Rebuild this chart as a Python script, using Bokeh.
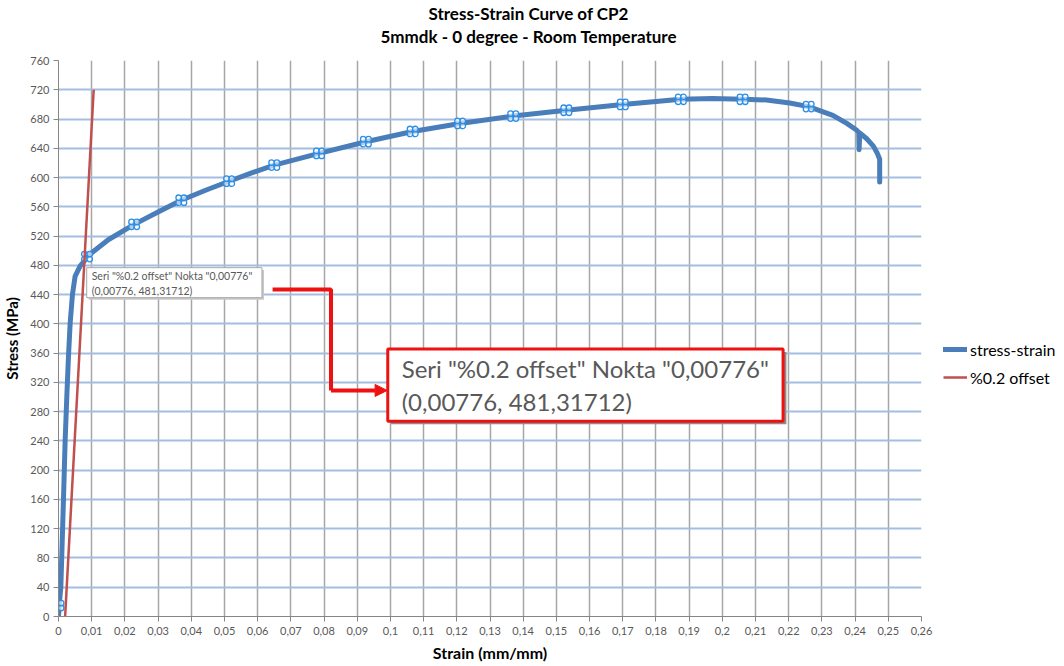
from bokeh.plotting import figure
from bokeh.models import (Range1d, FixedTicker, CustomJSTickFormatter, Legend, LegendItem,
                          Label, BoxAnnotation, Arrow, NormalHead, Title)
from bokeh.embed import file_html
from bokeh.resources import INLINE

# ---- data ----
strain = [0, 0.0002, 0.0007, 0.0011, 0.0015, 0.002, 0.0025, 0.003, 0.0035, 0.0042, 0.005,
          0.0065, 0.0078, 0.0086, 0.015, 0.0228, 0.03, 0.037, 0.0445, 0.0514, 0.058, 0.065,
          0.0785, 0.0926, 0.1067, 0.121, 0.137, 0.153, 0.17, 0.1875, 0.197, 0.2061, 0.2133,
          0.2203, 0.226, 0.2333, 0.2375, 0.2404, 0.2411, 0.2412, 0.2414, 0.2435, 0.2455,
          0.2466, 0.2474, 0.2474, 0.2474]
stress = [0, 15, 40, 100, 160, 240, 300, 355, 400, 440, 465,
          479, 486, 492, 515, 536, 553, 569, 583, 595, 606, 617,
          633, 649, 663, 674, 684, 692, 700, 707, 708, 707, 706,
          702, 697, 685, 674, 665, 662, 638, 661, 653, 643,
          634, 625, 610, 594]

marker_strain = [0.0, 0.0086, 0.0228, 0.037, 0.0514, 0.065, 0.0785, 0.0926, 0.1067, 0.121,
                 0.137, 0.153, 0.17, 0.1875, 0.2061, 0.226]
marker_stress = [15, 492, 536, 569, 595, 617, 633, 649, 663, 674, 684, 692, 700, 707, 707, 697]

offset_strain = [0.002, 0.0106]
offset_stress = [0, 720]

x_ticks = [round(i * 0.01, 2) for i in range(27)]
y_ticks = list(range(0, 761, 40))

title_lines = ["Stress-Strain Curve of CP2", "5mmdk - 0 degree - Room Temperature"]
tooltip_text = 'Seri "%0.2 offset" Nokta "0,00776"\n(0,00776, 481,31712)'

# callout geometry (annotation, data units)
small_box = dict(left=0.0085, right=0.0613, top=476.8, bottom=435.8)
big_box = dict(left=0.0992, right=0.2183, top=365.6, bottom=266.8)
arrow_x = [0.0645, 0.0821, 0.0821]
arrow_y = [447, 447, 309]
arrow_end = (0.0990, 309)

FONT = "Lato"
TXT = "#595959"
RED = "#ee1111"

p = figure(frame_width=863, frame_height=556, output_backend="svg", toolbar_location=None,
           x_range=Range1d(0, 0.26), y_range=Range1d(0, 760),
           min_border_left=53, min_border_right=134, min_border_top=54, min_border_bottom=40)
p.outline_line_color = None
p.background_fill_color = "white"

# titles (added bottom-up; first one is an empty spacer)
p.add_layout(Title(text=" ", standoff=5, text_font_size="7px"), "above")
p.add_layout(Title(text=title_lines[1], align="left", offset=322, standoff=0,
                   text_font=FONT, text_font_style="bold", text_font_size="17px",
                   text_color="black"), "above")
p.add_layout(Title(text=title_lines[0], align="left", offset=370, standoff=0,
                   text_font=FONT, text_font_style="bold", text_font_size="17px",
                   text_color="black"), "above")

# grids
p.xgrid.ticker = FixedTicker(ticks=x_ticks)
p.ygrid.ticker = FixedTicker(ticks=y_ticks)
p.xgrid.grid_line_color = "#a6a6a6"
p.xgrid.grid_line_width = 1.5
p.ygrid.grid_line_color = "#a3bedf"
p.ygrid.grid_line_width = 2

# axes
p.xaxis.ticker = FixedTicker(ticks=x_ticks)
p.yaxis.ticker = FixedTicker(ticks=y_ticks)
p.xaxis.formatter = CustomJSTickFormatter(code="""
var s = tick.toFixed(2).replace(/0+$/,'').replace(/\\.$/,'');
return s.replace('.', ',');
""")
for ax in (p.xaxis[0], p.yaxis[0]):
    ax.axis_line_color = "#868686"
    ax.major_tick_line_color = "#868686"
    ax.major_tick_in = 0
    ax.major_tick_out = 5
    ax.minor_tick_line_color = None
    ax.major_label_text_font = FONT
    ax.major_label_text_font_size = "11px"
    ax.major_label_text_color = TXT
    ax.axis_label_text_font = FONT
    ax.axis_label_text_font_style = "bold"
    ax.axis_label_text_font_size = "15px"
    ax.axis_label_text_color = "black"
p.xaxis.axis_label = "Strain (mm/mm)"
p.xaxis.axis_label_text_font_size = "16px"
p.yaxis.axis_label = "Stress (MPa)"
p.xaxis.major_label_standoff = 5
p.xaxis.axis_label_standoff = 5
p.yaxis.major_label_standoff = 4
p.yaxis.axis_label_standoff = 6

# series
r_main = p.line(strain, stress, line_color="#4a7ebb", line_width=5, line_join="round", line_cap="round")
# clover-style markers: four small rings around each data point
dx, dy = 0.0008, 3.4
for sx, sy in ((-1, -1), (-1, 1), (1, -1), (1, 1)):
    p.scatter([m + sx * dx for m in marker_strain], [m + sy * dy for m in marker_stress],
              marker="circle", size=5.5, fill_color="white", fill_alpha=0.6,
              line_color="#2e8fe6", line_width=1.3)
r_off = p.line(offset_strain, offset_stress, line_color="#c0504d", line_width=2.5)

legend = Legend(items=[LegendItem(label="stress-strain", renderers=[r_main]),
                       LegendItem(label="%0.2 offset", renderers=[r_off])],
                location=(22, 229), margin=0, padding=0, spacing=8,
                glyph_width=24, label_standoff=3, label_height=20, glyph_height=20,
                label_text_font=FONT, label_text_font_size="16px", label_text_color="black",
                border_line_color=None, background_fill_alpha=0)
p.add_layout(legend, "right")

# small tooltip box
p.add_layout(BoxAnnotation(left=small_box["left"] + 0.0006, right=small_box["right"] + 0.0006,
                           top=small_box["top"] - 3, bottom=small_box["bottom"] - 3,
                           fill_color="#c8c8c8", fill_alpha=1, line_color=None))
p.add_layout(BoxAnnotation(left=small_box["left"], right=small_box["right"],
                           top=small_box["top"], bottom=small_box["bottom"],
                           fill_color="white", fill_alpha=1, line_color="#a6a6a6",
                           line_alpha=1, line_width=1))
p.add_layout(Label(x=small_box["left"] + 0.0015, y=small_box["top"] - 3, text=tooltip_text,
                   text_baseline="top", text_font=FONT, text_font_size="10.5px", text_color=TXT,
                   text_line_height=1.3))

# big callout box
p.add_layout(BoxAnnotation(left=big_box["left"] + 0.001, right=big_box["right"] + 0.001,
                           top=big_box["top"] - 4, bottom=big_box["bottom"] - 4,
                           fill_color="#8c8c8c", fill_alpha=1, line_color=None))
p.add_layout(BoxAnnotation(left=big_box["left"], right=big_box["right"],
                           top=big_box["top"], bottom=big_box["bottom"],
                           fill_color="white", fill_alpha=1, line_color=RED,
                           line_alpha=1, line_width=3))
p.add_layout(Label(x=big_box["left"] + 0.0042, y=big_box["top"] - 7, text=tooltip_text,
                   text_baseline="top", text_font=FONT, text_font_size="24px", text_color=TXT,
                   text_line_height=1.12))

# red arrow
p.line(arrow_x, arrow_y, line_color=RED, line_width=4)
p.add_layout(Arrow(end=NormalHead(size=12, fill_color=RED, line_color=RED),
                   x_start=arrow_x[-1], y_start=arrow_y[-1], x_end=arrow_end[0], y_end=arrow_end[1],
                   line_color=RED, line_width=4))

open("out.html", "w").write(file_html(p, INLINE))
